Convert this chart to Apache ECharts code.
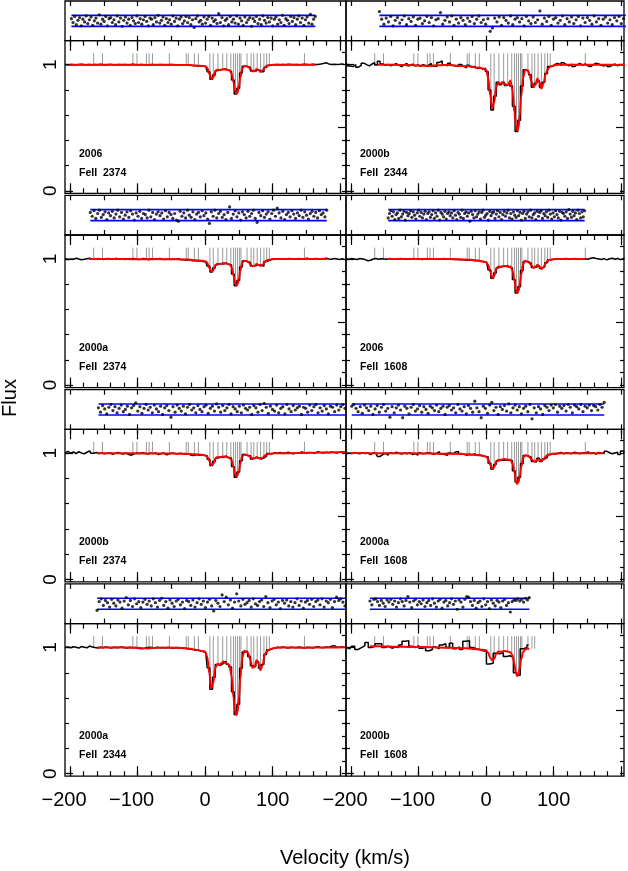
<!DOCTYPE html>
<html><head><meta charset="utf-8">
<script src="https://cdn.jsdelivr.net/npm/echarts@6.0.0/dist/echarts.min.js"></script>
<style>html,body{margin:0;padding:0;background:#fff;}#chart{width:628px;height:871px;}</style>
</head><body><div id="chart"></div>
<script>
// ================= DATA =================
const epochs = ['2006','2000b','2000a','2006','2000b','2000a','2000a','2000b'];
const lineNames = ['FeII  2374','FeII  2344','FeII  2374','FeII  1608','FeII  2374','FeII  1608','FeII  2344','FeII  1608'];

// tick values / labels
const xMinorTicks = [-200,-180,-160,-140,-120,-100,-80,-60,-40,-20,0,20,40,60,80,100,120,140,160,180,200];
const xMajorTicks = [-200,-100,0,100,200];
const xTickLabels = [-200,-100,0,100];
const resTicks = [-200,-150,-100,-50,0,50,100,150,200];
const yMinorLeft = [0,0.2,0.4,0.6,0.8,1.0];
const yMajorLeft = [0,1];
const yTickLabels = [0,1];
const yMinorRight = [0,0.1,0.2,0.3,0.4,0.6,0.7,0.8,0.9,1.0,1.1];
const yMajorRight = [0.5];

// component (velocity) positions, km/s
const compV = [-165,-152,-107,-101,-87,-83,-78,-53,-28,-25,-16,-10,7,12,19,26,32,38,42,45,48,51,53,62,68,72,77,82,87,91,95,147];
const compTop = 1.09;

// model (red) velocity nodes, km/s
const modelV = [-207,-200,-185,-172,-160,-145,-130,-115,-100,-85,-70,-55,-40,-30,-22,-16,-10,-5,0,3,6,9,12,15,18,21,24,27,30,33,36,39,42,44,46,48,50,52,55,58,61,64,67,70,73,76,79,82,85,88,91,94,98,103,110,120,135,147,155,163,175,180,192,204,207];

const model1 = [null,1.0,1.0,1.0,1.0,1.0,1.0,0.999,0.999,0.998,0.999,0.999,0.998,0.997,0.996,0.994,0.992,0.99,0.988,0.975,0.93,0.887,0.9,0.945,0.96,0.958,0.96,0.965,0.962,0.958,0.955,0.93,0.86,0.8,0.77,0.78,0.83,0.9,0.97,0.99,0.988,0.982,0.965,0.948,0.948,0.965,0.958,0.942,0.955,0.978,0.99,0.995,0.998,1.0,1.0,1.0,1.0,1.0,1.0,1.0,null,null,null,null,null];
const model2 = [null,null,null,null,1.0,1.0,0.998,0.997,0.994,0.99,0.995,0.998,0.99,0.988,0.985,0.978,0.975,0.97,0.96,0.9,0.76,0.655,0.7,0.82,0.86,0.85,0.855,0.85,0.84,0.845,0.875,0.8,0.62,0.52,0.478,0.5,0.6,0.75,0.9,0.96,0.955,0.93,0.87,0.82,0.84,0.89,0.86,0.81,0.85,0.92,0.96,0.98,0.99,0.997,1.0,1.0,0.999,1.0,1.0,1.0,1.0,1.0,0.998,1.0,1.0];
const model3 = [null,null,null,1.0,1.0,1.0,1.0,0.999,0.998,0.998,0.999,0.998,0.997,0.996,0.994,0.99,0.988,0.985,0.982,0.97,0.93,0.9,0.91,0.95,0.962,0.96,0.962,0.968,0.965,0.96,0.958,0.935,0.87,0.815,0.79,0.8,0.845,0.91,0.97,0.985,0.983,0.975,0.958,0.942,0.945,0.96,0.955,0.945,0.955,0.975,0.988,0.993,0.997,1.0,1.0,1.0,1.0,1.0,1.0,1.0,1.0,1.0,null,null,null];
const model4 = [null,null,null,null,null,1.0,1.0,1.0,0.999,0.999,1.0,0.999,0.997,0.995,0.993,0.99,0.985,0.98,0.975,0.955,0.9,0.85,0.865,0.92,0.94,0.938,0.94,0.945,0.942,0.938,0.94,0.91,0.83,0.76,0.73,0.745,0.8,0.88,0.96,0.985,0.98,0.97,0.95,0.93,0.935,0.955,0.94,0.92,0.935,0.965,0.985,0.992,0.997,1.0,1.0,1.0,1.0,1.0,null,null,null,null,null,null,null];
const model5 = [null,null,null,null,1.0,1.0,1.0,1.0,0.999,0.999,0.999,0.998,0.997,0.996,0.994,0.992,0.99,0.988,0.985,0.975,0.94,0.907,0.915,0.955,0.97,0.968,0.97,0.975,0.972,0.968,0.965,0.945,0.89,0.835,0.815,0.825,0.86,0.92,0.975,0.99,0.988,0.982,0.97,0.96,0.96,0.97,0.965,0.958,0.965,0.98,0.99,0.995,0.998,1.0,1.0,1.0,1.002,1.003,1.004,1.005,1.006,1.006,1.008,1.01,1.01];
const model6 = [null,1.002,1.002,1.001,1.001,1.0,1.0,1.0,0.999,0.998,0.997,0.996,0.995,0.993,0.99,0.987,0.984,0.98,0.975,0.955,0.91,0.88,0.89,0.93,0.948,0.947,0.95,0.955,0.952,0.948,0.948,0.92,0.85,0.785,0.757,0.77,0.82,0.895,0.965,0.985,0.982,0.972,0.955,0.938,0.935,0.952,0.948,0.94,0.95,0.972,0.985,0.99,0.995,0.998,1.0,1.0,1.0,1.0,1.0,1.0,1.0,null,null,null,null];
const model7 = [null,null,null,null,1.0,1.0,1.002,1.0,0.998,0.993,0.999,1.0,0.998,0.995,0.99,0.985,0.978,0.972,0.968,0.93,0.8,0.675,0.72,0.84,0.87,0.865,0.875,0.89,0.88,0.87,0.855,0.78,0.6,0.5,0.465,0.49,0.6,0.76,0.92,0.975,0.97,0.95,0.9,0.84,0.845,0.9,0.875,0.82,0.86,0.94,0.97,0.98,0.99,0.997,1.0,1.0,1.0,0.998,1.0,1.0,1.0,1.0,1.0,1.002,1.002];
const model8 = [null,null,null,1.01,1.01,1.008,1.006,1.005,1.004,1.003,1.0,0.998,0.996,0.994,0.99,0.988,0.985,0.982,0.978,0.96,0.92,0.9,0.91,0.95,0.968,0.966,0.968,0.972,0.97,0.966,0.962,0.94,0.87,0.8,0.775,0.79,0.84,0.91,0.965,0.985,0.99,0.992,null,null,null,null,null,null,null,null,null,null,null,null,null,null,null,null,null,null,null,null,null,null,null];

// observed spectra (black), pixel grid starts at specStart with step specStep km/s
const specStart = [-207,-207,-207,-207,-207,-207,-207,-207];
const specStep = [4,4,4,4,4,4,4,5];
const spec1 = [1.001,0.998,1.002,1.0,0.997,1.001,1.003,0.999,1.0,1.002,0.998,1.001,0.999,1.003,1.0,0.998,1.002,1.001,0.997,1.0,1.002,0.999,1.001,0.998,1.0,1.003,0.999,0.997,1.001,1.0,0.996,0.999,1.002,1.0,0.998,1.001,0.999,1.0,0.997,1.001,0.999,0.998,1.0,0.996,0.998,0.995,0.997,0.993,0.992,0.99,0.991,0.988,
 0.986,0.943,0.885,0.918,0.953,0.96,0.961,0.965,0.956,0.947,0.878,0.768,0.812,0.933,0.987,0.986,0.977,0.95,0.949,0.96,0.946,0.944,0.978,0.994,0.998,1.0,
 1.001,0.999,1.002,1.0,1.003,1.001,0.999,1.002,1.0,1.001,1.004,1.002,1.0,1.003,1.001,1.002,1.005,1.01,1.015,1.006,1.002,1.004,1.001,1.003,1.006,1.002];
const spec2 = [1.01,0.99,0.985,1.0,0.98,0.995,1.012,1.0,0.99,1.005,1.015,0.998,1.028,1.005,0.995,1.002,0.99,1.0,1.008,0.995,0.985,1.0,1.01,0.992,1.005,0.99,0.998,0.986,1.0,0.992,0.995,1.01,0.99,0.985,1.018,1.03,1.0,0.99,1.012,0.995,0.99,0.985,1.002,0.988,0.975,0.995,0.98,0.985,0.97,0.978,0.965,0.972,
 0.945,0.8,0.64,0.75,0.86,0.84,0.86,0.835,0.85,0.83,0.67,0.47,0.56,0.83,0.96,0.95,0.92,0.82,0.85,0.87,0.82,0.86,0.93,0.985,0.99,1.005,
 1.01,0.995,1.015,1.0,0.99,1.005,0.985,1.0,1.01,0.995,1.005,0.99,0.985,1.0,1.012,1.005,0.995,0.99,1.002,0.985,0.995,1.005,0.99,1.0,0.995,1.005];
const spec3 = [1.003,0.996,1.0,0.998,1.005,1.0,0.994,0.997,1.002,1.006,1.0,0.998,1.004,0.999,0.996,1.001,1.003,0.998,1.0,1.005,0.997,1.0,0.995,1.002,0.999,1.004,1.0,0.996,0.998,1.003,0.999,0.994,1.001,0.997,1.0,1.003,0.998,0.996,1.0,0.995,0.999,0.997,1.002,0.994,0.996,0.99,0.993,0.985,0.988,0.984,0.987,0.98,
 0.975,0.942,0.897,0.928,0.955,0.963,0.96,0.968,0.957,0.955,0.88,0.787,0.83,0.936,0.983,0.98,0.973,0.945,0.946,0.955,0.95,0.943,0.98,0.988,0.997,1.0,
 0.998,1.002,1.0,0.997,1.004,1.001,0.998,1.0,1.003,0.999,1.002,1.005,1.0,0.998,1.003,1.001,0.997,1.002,1.006,1.0,0.998,1.004,1.0,0.996,1.002,0.999];
const spec4 = [1.002,0.998,1.004,1.0,0.996,1.003,0.999,0.995,0.986,0.99,1.0,1.003,0.998,1.002,1.0,0.997,1.004,1.001,0.998,1.0,1.003,0.999,1.002,0.997,1.0,1.004,0.998,1.001,0.996,1.0,1.003,0.999,0.997,1.002,1.0,0.998,1.004,1.0,0.997,1.001,0.995,0.998,0.994,0.996,0.992,0.99,0.993,0.988,0.985,0.987,0.982,0.978,
 0.97,0.912,0.848,0.888,0.93,0.94,0.94,0.946,0.935,0.928,0.838,0.73,0.78,0.908,0.98,0.978,0.965,0.933,0.936,0.948,0.927,0.938,0.97,0.992,0.995,1.0,
 1.002,0.998,1.001,1.004,0.999,1.0,1.003,0.997,1.001,1.0,1.002,0.998,1.005,1.01,1.004,1.0,0.996,1.003,0.993,1.002,1.006,0.998,1.004,0.995,1.002,1.006];
const spec5 = [1.005,1.015,1.0,1.01,0.998,1.012,1.002,0.995,1.008,1.018,1.0,1.006,0.998,1.003,0.996,1.0,1.004,0.992,1.0,1.006,0.998,0.994,1.002,0.99,0.985,0.995,1.003,0.998,1.005,1.0,0.993,1.002,0.997,1.004,0.99,0.998,1.003,0.988,0.996,1.002,0.999,0.994,1.001,0.997,0.992,0.996,0.985,0.982,0.99,0.985,0.988,0.983,
 0.98,0.952,0.902,0.935,0.962,0.972,0.968,0.978,0.963,0.962,0.895,0.81,0.852,0.94,0.99,0.982,0.98,0.955,0.965,0.962,0.955,0.963,0.978,0.998,0.995,1.004,
 1.0,1.006,0.998,1.003,1.008,1.0,0.996,1.005,1.002,1.01,1.004,0.999,1.007,1.003,1.0,1.012,1.005,1.001,1.008,1.004,1.01,1.006,1.002,1.009,1.012,1.008];
const spec6 = [1.0,1.003,0.998,1.006,1.0,0.995,1.004,0.997,1.002,0.99,1.005,0.998,0.975,0.99,1.0,0.985,1.003,0.997,1.008,1.0,0.994,1.002,0.996,1.005,0.99,0.998,0.985,1.003,0.996,1.0,1.004,0.998,0.992,1.0,1.012,0.995,0.99,0.985,1.002,0.996,1.01,1.015,0.998,0.992,0.985,0.99,0.988,0.995,0.983,0.986,0.98,0.975,
 0.972,0.92,0.875,0.91,0.94,0.945,0.944,0.948,0.946,0.94,0.862,0.772,0.81,0.918,0.983,0.978,0.968,0.935,0.93,0.96,0.935,0.955,0.97,0.99,0.998,0.994,
 1.0,1.006,0.995,1.004,1.0,0.997,1.008,1.002,0.996,1.005,1.0,1.01,0.998,1.004,0.994,1.006,1.002,0.998,1.015,1.004,0.996,1.002,1.008,0.99,1.018,1.005];
const spec7 = [1.0,1.004,0.998,1.006,1.002,0.996,1.008,1.003,0.998,1.012,1.004,1.0,0.997,1.002,0.999,1.004,1.0,0.996,1.003,0.998,1.001,1.005,0.999,0.996,1.002,0.998,1.0,0.994,0.99,0.993,0.998,1.002,1.0,0.997,1.003,0.999,1.001,0.996,1.0,0.998,0.995,1.001,0.997,0.994,0.996,0.99,0.988,0.985,0.98,0.978,0.975,0.968,
 0.958,0.84,0.67,0.765,0.865,0.86,0.875,0.89,0.868,0.845,0.65,0.47,0.55,0.835,0.965,0.968,0.93,0.855,0.85,0.89,0.835,0.865,0.945,0.98,0.99,0.997,
 1.002,0.998,1.004,1.0,0.996,1.003,1.0,0.998,1.005,1.001,0.997,1.003,1.0,0.996,1.002,1.006,1.0,0.998,1.004,1.002,1.01,1.015,1.005,1.002,1.006,1.003];
const spec8 = [1.0,0.99,1.01,0.985,1.0,1.015,1.04,1.0,1.01,1.03,1.03,1.0,1.01,0.995,1.005,1.0,1.02,1.05,1.055,1.01,1.0,1.015,0.995,1.0,0.975,0.985,1.005,0.99,1.02,1.03,1.0,1.035,0.99,1.005,0.985,1.05,1.055,1.0,0.99,0.985,0.975,0.97,0.87,0.875,0.955,0.95,0.96,0.93,0.935,0.92,0.8,0.78,0.99,1.0,1.02];

// residuals (normalised), evenly spread over each fit range
const resRange = [[-198,163],[-158,207],[-170,180],[-145,146],[-158,207],[-199,175],[-160,207],[-172,64]];
const res1 = [0.4,-0.3,0.8,-0.7,0.1,0.6,-0.9,0.3,-0.2,0.9,-0.5,0.2,0.7,-0.8,0.0,0.5,-0.4,1.1,-0.6,0.3,-0.1,0.8,-0.9,0.4,0.6,-0.3,0.2,-0.7,0.9,-0.2,0.5,-1.0,0.1,0.7,-0.4,0.3,-0.8,0.6,0.0,-0.5,0.9,-0.3,0.4,-0.6,0.2,0.8,-0.1,-0.9,0.5,0.3,-0.7,0.6,-0.2,1.0,-0.4,0.1,0.7,-0.8,0.4,-0.3,0.2,-0.6,0.9,-0.1,0.5,-0.9,0.3,0.7,-0.5,0.0,0.8,-0.3,0.6,-0.7,0.2,-1.2,0.4,0.9,-0.2,0.1,-0.6,0.7,-0.4,0.3,0.8,-0.8,0.5,-0.1,0.2,-0.5,1.3,-0.3,0.6,-0.9,0.1,0.4,-0.7,0.8,-0.2,0.3,-0.4,0.9,-0.6,0.5,0.0,-0.8,0.7,-0.3,0.2,0.6,-1.0,0.4,-0.1,0.8,-0.5,0.3,-0.7,0.9,0.1,-0.4,0.6,-0.2,0.5,-0.9,0.3,0.7,-0.6,0.2,-0.3,1.0,-0.8,0.4,0.1,-0.5,0.8,-0.1,0.6,-0.7,0.3,0.9,-0.3,0.5,-0.8,0.2,0.7,-0.4,1.2,-0.6,0.3,0.8];
const res2 = [1.7,0.3,-0.6,0.5,-0.2,0.8,-0.9,0.1,0.6,-0.4,0.2,0.9,-0.7,0.4,-0.1,0.7,-0.8,0.3,0.5,-0.5,0.0,0.8,-0.3,0.6,-0.9,0.2,0.4,1.5,-0.6,0.1,0.7,-0.2,0.9,-0.8,0.3,-0.4,0.6,0.1,-0.7,0.5,-0.1,0.8,-0.5,0.3,0.9,-0.3,0.2,-0.6,0.4,-1.9,-1.3,0.5,-0.2,0.7,-0.8,0.6,0.1,-0.4,0.9,-0.7,0.3,0.6,-0.2,0.4,-0.9,0.8,0.0,-0.5,0.7,-0.3,0.2,1.8,-0.6,0.5,-0.1,0.8,-0.8,0.3,0.6,-0.4,0.1,0.9,-0.7,0.4,-0.2,0.7,-0.5,0.2,0.8,-0.9,0.5,-0.3,0.6,0.1,-0.6,0.9,-0.2,0.4,-0.8,0.3,0.7,-0.4,0.2,-0.7,0.6,0.0,0.8,-0.5,0.4,-0.1];
const res3 = [0.5,-0.2,0.8,-0.6,0.3,0.9,-0.4,0.1,0.6,-0.8,0.4,-0.1,0.7,-0.5,0.2,0.9,-0.3,0.5,-0.7,0.0,0.6,-0.4,0.8,0.2,-0.9,0.4,-0.2,0.7,-0.6,0.3,0.1,-0.5,0.9,-0.3,0.5,-0.8,0.2,0.6,-0.1,0.4,-0.7,0.8,-0.3,0.5,0.1,-0.6,0.3,-0.9,-1.1,0.7,-0.2,0.4,-0.5,0.9,0.0,-0.4,0.6,-0.8,0.2,0.5,-0.3,0.8,-0.1,0.4,-0.7,-1.5,0.6,-0.2,0.9,-0.5,0.3,0.7,-0.4,0.1,-0.8,0.5,1.5,-0.6,0.2,0.8,-0.3,0.4,-0.9,0.6,0.1,-0.5,0.7,-0.2,0.3,0.9,-0.6,-1.3,0.5,-0.1,0.8,-0.4,0.2,0.6,-0.7,0.3,0.9,-0.2,1.3,0.4,-0.5,0.7,-0.8,0.1,0.5,-0.3,0.8,0.2,-0.6,0.4,-0.1,0.9,-0.4,0.6,0.0,-0.7,0.3,0.7,-0.2,0.5,-0.5,0.8,0.1,0.4,-0.3,0.9];
const res4 = [-0.5,0.3,0.8,-0.2,0.6,-0.8,0.1,0.4,-0.6,0.9,-0.3,0.2,0.7,-0.9,0.5,-0.1,0.3,0.8,-0.4,0.6,0.0,-0.7,0.4,0.9,-0.2,0.5,-0.5,0.2,0.7,-0.8,0.3,0.6,-0.4,0.1,0.8,-0.6,0.4,-0.2,0.9,-0.9,0.5,0.2,-0.3,0.7,-0.7,0.3,0.6,-0.1,0.4,-0.5,0.8,0.0,-0.8,0.5,0.2,-0.4,0.9,-0.6,0.3,0.6,-0.2,0.4,-1.1,0.7,0.1,-0.5,0.8,-0.3,0.2,0.6,-0.7,0.5,0.9,-0.4,0.0,0.3,-0.9,0.7,-0.1,0.4,0.6,-0.6,0.2,0.8,-0.3,0.5,-0.8,0.1,0.7,-0.2,0.4,0.9,-0.5,0.3,-0.7,0.6,0.0,-0.4,0.8,-0.1,0.5,-0.9,0.3,0.7,-0.6,0.2,0.6,-0.3,0.9,-0.5,0.1,0.4,-0.8,0.7,-0.2,0.5,0.8,-0.6,0.3,-0.1,0.6,-0.4,0.9,0.2,-0.7,0.4,-0.3,0.8,0.1,-0.5,0.7,-0.9,0.5,0.3,-0.2,0.6,-0.6,1.0,0.2,-0.4,0.7,-0.1,0.4,-0.8,0.9,0.3,-0.5,0.6,-0.3,0.8];
const res5 = [0.3,-0.5,0.7,0.1,-0.8,0.4,0.9,-0.2,0.5,-0.6,0.2,0.8,-0.4,0.0,0.6,-0.9,0.3,0.7,1.2,-0.3,0.5,-0.7,0.2,0.9,-0.1,0.4,-0.6,0.8,0.1,-0.4,0.6,-0.9,0.3,0.7,-0.2,-1.4,0.5,-0.5,0.8,0.2,-0.3,0.6,-0.8,0.4,0.9,-0.1,0.3,-0.6,0.7,0.0,-0.4,0.5,0.8,-0.7,0.2,0.6,-0.3,1.0,0.4,-0.5,0.7,-0.2,0.3,0.9,-0.8,0.5,0.1,-0.4,0.6,-0.6,0.8,0.2,-0.1,0.4,-0.9,0.7,0.3,-0.5,0.9,-0.2,1.1,0.4,-0.7,0.6,0.0,-0.3,0.8,-0.6,0.2,0.5,-0.8,0.9,0.1,-0.4,0.7,-0.1,0.3,0.6,-0.9,0.4,0.2,-0.5,0.8,-0.2,0.5,0.9,-0.6,0.3,-0.3,0.7,0.1,-0.8,0.6,0.4,-0.4,0.8,-0.1,0.5,0.9,0.2];
const res6 = [0.6,0.9,0.2,-0.4,0.5,-0.7,0.8,0.3,-0.2,0.6,-0.9,0.1,0.7,-0.5,0.4,0.9,-0.3,0.2,-1.4,0.5,-0.6,0.3,0.8,-0.1,-1.5,0.6,0.2,-0.8,0.4,0.9,-0.3,0.1,0.7,-0.5,0.5,0.0,-0.7,0.6,0.3,-0.2,0.8,-0.4,0.2,0.6,-0.9,0.4,0.7,-0.1,0.3,-0.6,0.9,0.1,-0.3,0.5,-0.8,0.7,0.2,-0.5,1.5,0.3,-0.4,-1.5,0.6,0.2,-0.7,0.8,1.3,-0.2,0.4,-0.9,0.5,0.0,0.7,-0.3,1.0,-0.6,0.3,0.8,-0.1,0.5,-0.8,0.2,0.6,-0.4,0.9,-1.7,0.3,-0.6,0.5,0.1,-0.9,0.7,0.4,-0.2,0.8,0.3,0.9,-0.5,0.6,0.2,0.7,-0.3,0.9,0.4,-0.6,0.8,0.5,0.1,0.9,-0.4,0.6,0.3,0.8,-0.2,0.7,0.5,-0.1,0.9,0.4,1.3];
const res7 = [-1.2,0.4,0.9,-0.3,0.6,0.2,-0.6,0.8,0.1,-0.4,0.7,0.3,-0.8,0.5,1.1,-0.2,0.6,-0.5,0.9,0.0,0.4,-0.7,0.3,0.8,-0.1,0.5,-0.4,0.9,0.2,-0.6,0.6,1.0,-0.3,0.4,-0.8,0.7,0.1,-0.5,0.5,0.8,-0.2,0.3,-0.9,0.6,0.4,-0.3,0.7,-0.6,0.2,0.9,-0.1,0.5,-0.7,0.3,0.8,-0.4,-1.3,0.6,0.1,-0.5,1.6,0.4,1.2,-0.2,0.7,-0.8,0.3,1.8,0.5,-0.4,0.8,-0.1,0.2,0.6,-0.6,0.9,0.0,-0.3,0.4,0.7,-0.5,1.3,0.2,-0.7,0.5,0.8,-0.2,0.3,-0.9,0.6,0.1,0.7,-0.4,0.4,-0.6,0.2,0.9,-0.3,0.5,-0.8,0.3,0.6,-0.1,0.8,-0.5,0.4,0.7,-0.2,0.9,-0.6,0.5,0.2,0.8,-0.7,0.4,1.2,0.6,0.9,0.3,-0.4];
const res8 = [0.5,-0.2,0.8,0.9,0.4,-0.3,0.6,0.1,-0.5,0.7,0.3,0.8,-0.1,0.5,-0.6,0.2,0.9,0.4,-0.4,0.6,1.3,0.3,-0.7,0.5,0.8,-0.2,0.4,0.0,0.7,-0.5,0.2,0.6,-0.3,0.9,0.1,-0.6,0.5,0.8,-0.8,0.3,0.6,-0.4,0.2,0.9,-0.1,0.5,-1.0,0.7,0.3,-0.6,0.8,1.3,1.2,0.4,-0.3,0.6,-0.8,0.2,0.5,-0.5,0.9,-0.2,0.4,-0.9,0.7,0.1,-0.4,0.6,0.3,-0.7,0.5,0.8,-0.3,0.2,-1.5,0.4,0.7,0.6,0.9,0.5,0.8,0.3,1.0,0.7,1.1];
const sigmaLevel = 1;

const models = [model1,model2,model3,model4,model5,model6,model7,model8];
const spectra = [spec1,spec2,spec3,spec4,spec5,spec6,spec7,spec8];
const residuals = [res1,res2,res3,res4,res5,res6,res7,res8];

// ================= LAYOUT / STYLE =================
const TOP0 = 1, ROW_H = 194.3, RES_H = 39.7, MAIN_H = 152.6;
const colLeft = [65, 346], colWidth = [281, 278];
const xMin = -207.5, xMax = [208.5, 204.3];
const yMin = -0.02, yMax = 1.19;
const resMin = -3.6, resMax = 3.6;
const FONT = '"Liberation Sans", Arial, sans-serif';

const grids = [], xAxes = [], yAxes = [], series = [], graphics = [];

function addX(gi, c, pos, ticks, len, withLabels) {
  const ax = {
    type: 'value', gridIndex: gi, position: pos, min: xMin, max: xMax[c],
    axisLine: { show: false, onZero: false }, splitLine: { show: false },
    axisTick: { show: true, inside: true, length: len, customValues: ticks, lineStyle: { color: '#000', width: 1.2 } },
    axisLabel: { show: false }
  };
  if (withLabels) {
    ax.axisLabel = {
      show: true, customValues: xTickLabels, margin: 14, color: '#000', fontFamily: FONT, fontSize: 20,
      formatter: v => v < 0 ? '{n|\u2212' + Math.abs(v) + '}' : '{p|' + v + '}',
      rich: {
        n: { fontFamily: FONT, fontSize: 20, color: '#000', padding: [0, 12, 0, 0] },
        p: { fontFamily: FONT, fontSize: 20, color: '#000' }
      }
    };
  }
  xAxes.push(ax); return xAxes.length - 1;
}
function addY(gi, pos, min, max, ticks, len, labels) {
  const ax = {
    type: 'value', gridIndex: gi, position: pos, min: min, max: max,
    axisLine: { show: false, onZero: false }, splitLine: { show: false },
    axisTick: ticks ? { show: true, inside: true, length: len, customValues: ticks, lineStyle: { color: '#000', width: 1.2 } } : { show: false },
    axisLabel: { show: false }
  };
  if (labels) {
    ax.axisLabel = { show: true, customValues: labels, rotate: 90, margin: 5, color: '#000', fontFamily: FONT, fontSize: 19 };
  }
  yAxes.push(ax); return yAxes.length - 1;
}

function levelAt(p, v) {
  let best = null, bd = Infinity;
  modelV.forEach((mv, i) => { const f = models[p][i]; if (f != null) { const d = Math.abs(mv - v); if (d < bd) { bd = d; best = f; } } });
  if (bd <= 8) return best;
  let sb = null, sd = Infinity;
  spectra[p].forEach((f, k) => { const d = Math.abs(specStart[p] + k * specStep[p] - v); if (d < sd) { sd = d; sb = f; } });
  return sd <= specStep[p] ? sb : null;
}

for (let p = 0; p < 8; p++) {
  const r = Math.floor(p / 2), c = p % 2;
  const topRes = TOP0 + r * ROW_H, topMain = topRes + RES_H;
  const gBox = { left: colLeft[c], width: colWidth[c], show: true, borderColor: '#000', borderWidth: 1.3, backgroundColor: 'rgba(0,0,0,0)' };
  grids.push(Object.assign({ top: topRes, height: RES_H }, gBox));
  const gR = grids.length - 1;
  grids.push(Object.assign({ top: topMain, height: MAIN_H }, gBox));
  const gM = grids.length - 1;

  // residual strip axes
  const xr = addX(gR, c, 'bottom', resTicks, 5, false);
  addX(gR, c, 'top', resTicks, 5, false);
  const yr = addY(gR, 'left', resMin, resMax, null, 0, null);

  // main panel axes
  const xm = addX(gM, c, 'bottom', xMinorTicks, 5, r === 3);
  addX(gM, c, 'bottom', xMajorTicks, 10, false);
  addX(gM, c, 'top', xMinorTicks, 5, false);
  addX(gM, c, 'top', xMajorTicks, 10, false);
  const ym = addY(gM, 'left', yMin, yMax, yMinorLeft, 4, c === 0 ? yTickLabels : null);
  addY(gM, 'left', yMin, yMax, yMajorLeft, 8, null);
  addY(gM, 'right', yMin, yMax, yMinorRight, 4, null);
  addY(gM, 'right', yMin, yMax, yMajorRight, 8, null);

  // residual points
  const [lo, hi] = resRange[p];
  const rs = residuals[p];
  series.push({
    type: 'scatter', xAxisIndex: xr, yAxisIndex: yr, silent: true, z: 4,
    symbol: 'circle', symbolSize: 3.2, itemStyle: { color: '#000' },
    data: rs.map((y, i) => [lo + i * (hi - lo) / (rs.length - 1), y])
  });
  [sigmaLevel, -sigmaLevel].forEach(lv => series.push({
    type: 'line', xAxisIndex: xr, yAxisIndex: yr, silent: true, z: 3, symbol: 'none',
    lineStyle: { color: '#0000ff', width: 1.6 }, data: [[lo, lv], [hi, lv]]
  }));

  // component ticks
  const gray = [];
  compV.forEach(v => {
    const L = levelAt(p, v);
    if (L != null) { gray.push([v, compTop], [v, L], [v, '-']); }
  });
  series.push({
    type: 'line', xAxisIndex: xm, yAxisIndex: ym, silent: true, z: 1, symbol: 'none', connectNulls: false,
    lineStyle: { color: '#9a9a9a', width: 1 }, data: gray
  });

  // observed spectrum
  series.push({
    type: 'line', xAxisIndex: xm, yAxisIndex: ym, silent: true, z: 3, symbol: 'none', step: 'middle',
    lineStyle: { color: '#000', width: 1.5 },
    data: spectra[p].map((f, k) => [specStart[p] + k * specStep[p], f])
  });

  // model fit
  const md = [];
  modelV.forEach((v, i) => { const f = models[p][i]; if (f != null) md.push([v, f]); });
  series.push({
    type: 'line', xAxisIndex: xm, yAxisIndex: ym, silent: true, z: 4, symbol: 'none',
    smooth: 0.35, smoothMonotone: 'x', lineStyle: { color: '#ff0000', width: 2 }, data: md
  });

  // panel labels
  const tx = colLeft[c] + 14;
  graphics.push({ type: 'text', x: tx, y: topMain + 113, silent: true,
    style: { text: epochs[p], fill: '#000', font: 'bold 10.5px ' + FONT, verticalAlign: 'middle' } });
  graphics.push({ type: 'text', x: tx, y: topMain + 132, silent: true,
    style: { text: lineNames[p], fill: '#000', font: 'bold 10.5px ' + FONT, verticalAlign: 'middle' } });
}

graphics.push({ type: 'text', x: 345, y: 858, silent: true,
  style: { text: 'Velocity (km/s)', fill: '#000', font: '20px ' + FONT, align: 'center', verticalAlign: 'middle' } });
graphics.push({ type: 'text', x: 10, y: 398, rotation: Math.PI / 2, silent: true,
  style: { text: 'Flux', fill: '#000', font: '20px ' + FONT, align: 'center', verticalAlign: 'middle' } });

const chart = echarts.init(document.getElementById('chart'), null, { renderer: 'canvas', width: 628, height: 871 });
chart.setOption({
  animation: false, backgroundColor: '#fff',
  grid: grids, xAxis: xAxes, yAxis: yAxes, series: series,
  graphic: { elements: graphics }
});
</script></body></html>
